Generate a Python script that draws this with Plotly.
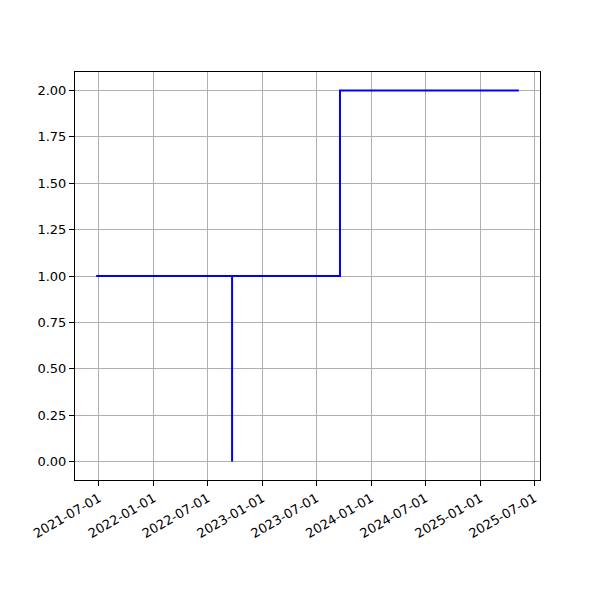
import plotly.graph_objects as go
import pandas as pd

dates = ["2021-06-22", "2022-09-21", "2022-09-21", "2022-09-21", "2023-09-18", "2023-09-18", "2025-05-10"]
values = [1, 1, 0, 1, 1, 2, 2]
y_ticks = [0.0, 0.25, 0.5, 0.75, 1.0, 1.25, 1.5, 1.75, 2.0]
x_ticks = ["2021-07-01", "2022-01-01", "2022-07-01", "2023-01-01", "2023-07-01",
           "2024-01-01", "2024-07-01", "2025-01-01", "2025-07-01"]

d = pd.to_datetime(dates)
span = d.max() - d.min()
xr = [d.min() - span * 0.05, d.max() + span * 0.05]

fig = go.Figure()
fig.add_trace(go.Scatter(x=d, y=values, mode="lines", line=dict(color="blue", width=2, shape="hv"),
                         showlegend=False))

axis_common = dict(showline=True, linecolor="black", linewidth=1, mirror=True,
                   showgrid=True, gridcolor="#b0b0b0", gridwidth=1,
                   ticks="outside", ticklen=5, tickcolor="black", zeroline=False,
                   tickfont=dict(family="DejaVu Sans", size=13, color="black"))

fig.update_xaxes(range=xr, tickvals=pd.to_datetime(x_ticks), ticktext=x_ticks, tickangle=-30,
                 **axis_common)
fig.update_yaxes(range=[-0.1, 2.1], tickvals=y_ticks, ticktext=[f"{v:.2f}" for v in y_ticks],
                 **axis_common)

fig.update_layout(width=600, height=600, margin=dict(l=67, r=68, t=64, b=128, autoexpand=False),
                  plot_bgcolor="white", paper_bgcolor="white",
                  font=dict(family="DejaVu Sans", size=13, color="black"))

fig.write_html("out.html")
